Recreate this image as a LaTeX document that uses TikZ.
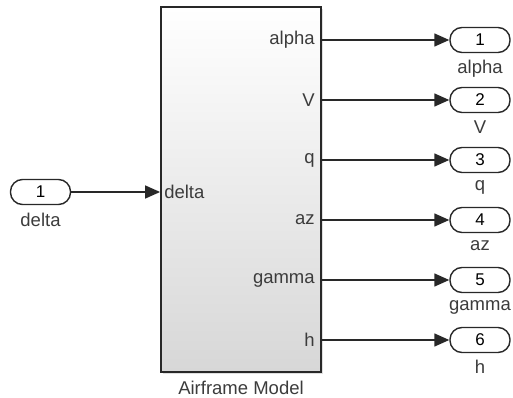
\documentclass[tikz,border=0pt]{standalone}
\usepackage{fontspec}
\setmainfont{Liberation Sans}
\usetikzlibrary{arrows.meta,positioning,shadows}
\definecolor{simEdge}{RGB}{40,40,40}
\definecolor{simText}{RGB}{60,60,60}
\definecolor{simShade}{RGB}{215,215,215}

\begin{document}
\begin{tikzpicture}[x=1pt,y=-1pt,
  subsystem/.style={
    draw=simEdge,
    line width=1.8pt,
    minimum width=160pt,
    minimum height=365pt,
    inner sep=0pt,
    top color=white,
    bottom color=simShade,
    drop shadow={shadow xshift=2pt,shadow yshift=-2pt,opacity=0.25}
  },
  port/.style={
    draw=simEdge,
    line width=1.4pt,
    rounded corners=12pt,
    minimum width=60pt,
    minimum height=25pt,
    inner sep=0pt,
    fill=white,
    font=\fontsize{17}{19}\selectfont
  },
  portname/.style={inner sep=1pt,text=simText,font=\fontsize{18.5}{20}\selectfont},
  signal/.style={inner sep=0pt,text=simText,font=\fontsize{18.5}{20}\selectfont},
  arrow/.style={-{Triangle[length=15pt,width=13pt]},line width=1.4pt,simEdge}
]
  \useasboundingbox (0,0) rectangle (513,398);
  \node[subsystem] (airframe) at (241,189.5) {};
  \node[portname,below=7pt of airframe] (airframeName) {Airframe Model};
  % inport
  \node[port] (inDelta) at (40.5,192) {1};
  \node[portname,below=7pt of inDelta] (inDeltaName) {delta};
  % outports
  \node[port] (outAlpha) at (480,40) {1};
  \node[port] (outV) at (480,100) {2};
  \node[port] (outQ) at (480,160) {3};
  \node[port] (outAz) at (480,220) {4};
  \node[port] (outGamma) at (480,280) {5};
  \node[port] (outH) at (480,340) {6};
  \node[portname,below=6pt of outAlpha] (outAlphaName) {alpha};
  \node[portname,below=6pt of outV] (outVName) {V};
  \node[portname,below=6pt of outQ] (outQName) {q};
  \node[portname,below=6pt of outAz] (outAzName) {az};
  \node[portname,below=6pt of outGamma] (outGammaName) {gamma};
  \node[portname,below=6pt of outH] (outHName) {h};
  % signal names inside the block
  \node[signal,anchor=west] (sigDelta) at ([xshift=4pt]airframe.west |- inDelta) {delta};
  \node[signal,anchor=east] (sigAlpha) at ([xshift=-7pt]airframe.east |- outAlpha) {alpha};
  \node[signal,anchor=east] (sigV) at ([xshift=-7pt]airframe.east |- outV) {V};
  \node[signal,anchor=east] (sigQ) at ([xshift=-7pt]airframe.east |- outQ) {q};
  \node[signal,anchor=east] (sigAz) at ([xshift=-7pt]airframe.east |- outAz) {az};
  \node[signal,anchor=east] (sigGamma) at ([xshift=-7pt]airframe.east |- outGamma) {gamma};
  \node[signal,anchor=east] (sigH) at ([xshift=-7pt]airframe.east |- outH) {h};
  % lines
  \draw[arrow] (inDelta) -- (airframe.west |- inDelta);
  \draw[arrow] (airframe.east |- outAlpha) -- (outAlpha);
  \draw[arrow] (airframe.east |- outV) -- (outV);
  \draw[arrow] (airframe.east |- outQ) -- (outQ);
  \draw[arrow] (airframe.east |- outAz) -- (outAz);
  \draw[arrow] (airframe.east |- outGamma) -- (outGamma);
  \draw[arrow] (airframe.east |- outH) -- (outH);
\end{tikzpicture}
\end{document}
